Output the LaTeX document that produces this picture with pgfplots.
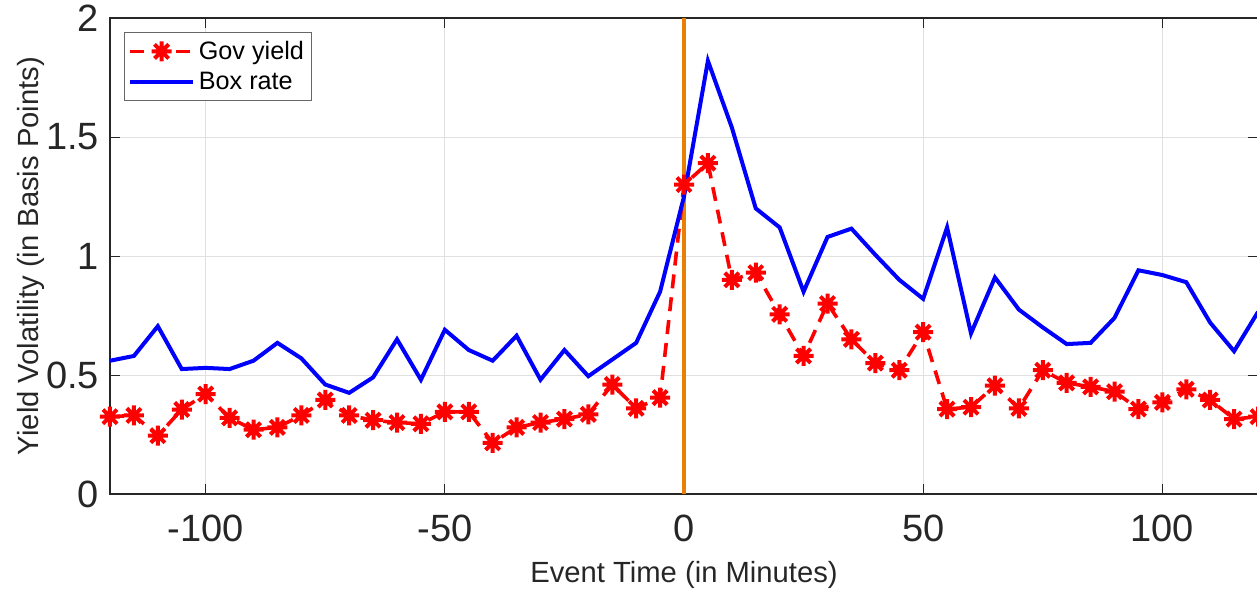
\documentclass[border=0pt]{standalone}
\usepackage{fontspec}
\setmainfont{Liberation Sans}
\usepackage{pgfplots}
\pgfplotsset{compat=1.18}
\definecolor{axgray}{rgb}{0.15,0.15,0.15}
\definecolor{vorange}{RGB}{232,128,8}
\pgfdeclareplotmark{ast8}{%
  \pgfpathmoveto{\pgfqpoint{-\pgfplotmarksize}{0pt}}\pgfpathlineto{\pgfqpoint{\pgfplotmarksize}{0pt}}%
  \pgfpathmoveto{\pgfqpoint{0pt}{-\pgfplotmarksize}}\pgfpathlineto{\pgfqpoint{0pt}{\pgfplotmarksize}}%
  \pgfpathmoveto{\pgfqpoint{-0.707\pgfplotmarksize}{-0.707\pgfplotmarksize}}\pgfpathlineto{\pgfqpoint{0.707\pgfplotmarksize}{0.707\pgfplotmarksize}}%
  \pgfpathmoveto{\pgfqpoint{-0.707\pgfplotmarksize}{0.707\pgfplotmarksize}}\pgfpathlineto{\pgfqpoint{0.707\pgfplotmarksize}{-0.707\pgfplotmarksize}}%
  \pgfusepathqstroke
}
\begin{document}
\begin{tikzpicture}
\begin{axis}[
  name=main,
  scale only axis,
  width=574pt, height=238pt,
  xmin=-120, xmax=120, ymin=0, ymax=2,
  xtick={-100,-50,0,50,100},
  ytick={0,0.5,1,1.5,2},
  yticklabels={0,0.5,1,1.5,2},
  /pgf/number format/assume math mode=true,
  tick align=inside,
  major tick length=5pt,
  tick style={axgray, line width=0.5pt},
  axis line style={axgray, line width=0.6pt},
  grid=major,
  major grid style={line width=0.5pt, color=black!12},
  ticklabel style={font=\fontsize{19}{22}\selectfont, text=axgray},
  xticklabel style={yshift=-7pt},
  yticklabel style={xshift=-2pt},
  xlabel={Event Time (in Minutes)},
  ylabel={Yield Volatility (in Basis Points)},
  label style={font=\fontsize{14.6}{17}\selectfont, text=axgray},
  xlabel style={yshift=-3pt},
  ylabel style={yshift=-6pt},
  legend style={font=\fontsize{12.6}{15}\selectfont, draw=axgray!70, line width=0.5pt,
     at={(0.012,0.97)}, anchor=north west, inner xsep=2pt, inner ysep=2pt,
     row sep=1pt, cells={anchor=west}},
  legend image code/.code={
    \draw[mark repeat=2,mark phase=2,#1] plot coordinates {(0cm,0cm) (0.55cm,0cm) (1.1cm,0cm)};
  },
]
\draw[vorange, line width=2pt] (axis cs:0,0) -- (axis cs:0,2);
\addplot[red, line width=1.8pt, dash pattern=on 7pt off 4.5pt, mark=ast8, mark size=5pt,
  mark options={solid, line width=2pt}] coordinates {
(-120,0.325)(-115,0.33)(-110,0.245)(-105,0.355)(-100,0.42)(-95,0.32)(-90,0.27)(-85,0.28)
(-80,0.33)(-75,0.395)(-70,0.33)(-65,0.31)(-60,0.30)(-55,0.295)(-50,0.345)(-45,0.345)
(-40,0.215)(-35,0.28)(-30,0.30)(-25,0.315)(-20,0.335)(-15,0.46)(-10,0.36)(-5,0.405)
(0,1.30)(5,1.39)(10,0.90)(15,0.93)(20,0.755)(25,0.58)(30,0.80)(35,0.65)
(40,0.55)(45,0.52)(50,0.68)(55,0.357)(60,0.365)(65,0.455)(70,0.36)(75,0.52)
(80,0.467)(85,0.45)(90,0.43)(95,0.357)(100,0.385)(105,0.44)(110,0.395)(115,0.315)(120,0.325)
};
\addlegendentry{Gov yield}
\addplot[blue, line width=2pt, no marks] coordinates {
(-120,0.56)(-115,0.58)(-110,0.705)(-105,0.525)(-100,0.53)(-95,0.525)(-90,0.56)(-85,0.635)
(-80,0.57)(-75,0.46)(-70,0.425)(-65,0.49)(-60,0.65)(-55,0.48)(-50,0.69)(-45,0.605)
(-40,0.56)(-35,0.665)(-30,0.48)(-25,0.605)(-20,0.495)(-15,0.565)(-10,0.635)(-5,0.85)
(0,1.25)(5,1.82)(10,1.54)(15,1.20)(20,1.12)(25,0.85)(30,1.08)(35,1.115)
(40,1.005)(45,0.90)(50,0.82)(55,1.12)(60,0.675)(65,0.91)(70,0.775)(75,0.70)
(80,0.63)(85,0.635)(90,0.74)(95,0.94)(100,0.92)(105,0.89)(110,0.72)(115,0.60)(120,0.765)
};
\addlegendentry{Box rate}
\end{axis}
\pgfresetboundingbox
\path ([xshift=-55pt,yshift=-47.5pt]main.south west) rectangle ([xshift=-0.5pt,yshift=9pt]main.north east);
\end{tikzpicture}
\end{document}
